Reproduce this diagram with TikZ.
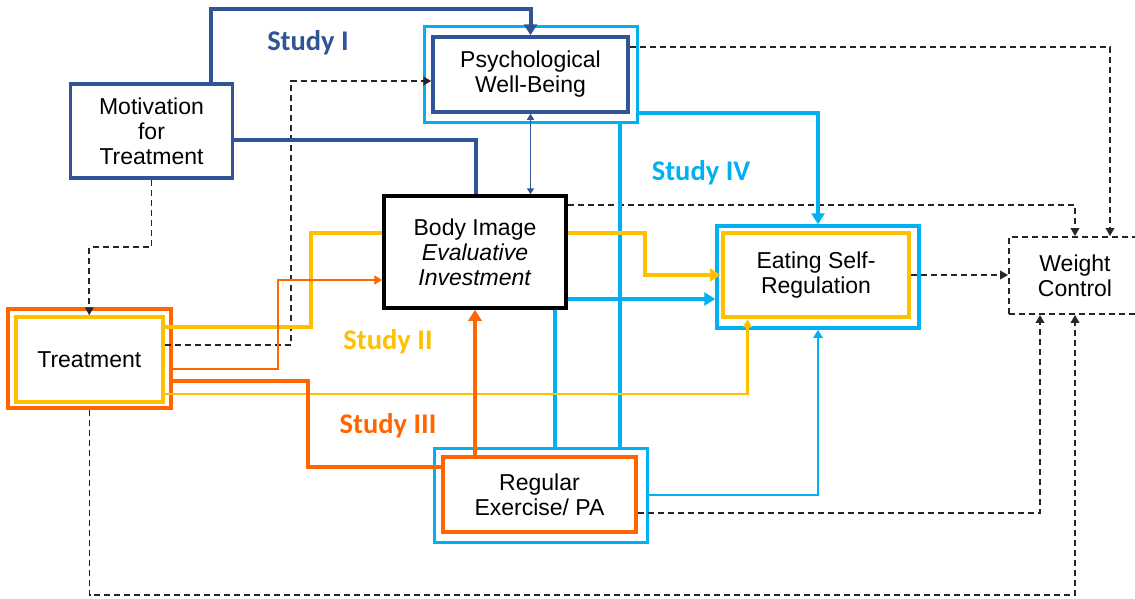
\documentclass[tikz,border=0pt]{standalone}
\usepackage{fontspec}
\setmainfont{Liberation Sans}
\newfontfamily\studyfont{Carlito}
\usetikzlibrary{arrows.meta,calc}
\definecolor{dblue}{RGB}{47,85,151}
\definecolor{lblue}{RGB}{0,176,240}
\definecolor{yel}{RGB}{255,192,0}
\definecolor{ora}{RGB}{255,102,0}
\begin{document}
\begin{tikzpicture}[x=1pt,y=-1pt,
  box/.style={draw, inner sep=0pt, align=center, font=\fontsize{23}{25}\selectfont},
  frame/.style={draw, inner sep=0pt},
  study/.style={inner sep=0pt, font=\studyfont\bfseries\fontsize{28.5}{30}\selectfont},
  dbT/.style={draw=dblue, line width=4pt},
  dbt/.style={draw=dblue, line width=1.6pt},
  lbT/.style={draw=lblue, line width=4pt},
  lbt/.style={draw=lblue, line width=2.2pt},
  ylT/.style={draw=yel, line width=4pt},
  ylt/.style={draw=yel, line width=2.2pt},
  orT/.style={draw=ora, line width=4.5pt},
  ort/.style={draw=ora, line width=2.2pt},
  dsh/.style={draw=black!85, line width=1.8pt, dash pattern=on 6pt off 4pt},
  tipT/.style={-{Triangle[length=11pt,width=13pt]}},
  tipt/.style={-{Triangle[length=8pt,width=9pt]}},
  tipd/.style={-{Triangle[length=8pt,width=8.5pt]}},
]
\useasboundingbox (0,0) rectangle (1135,598);
\clip (0,0) rectangle (1135,598);

% boxes
\node[box, draw=dblue, line width=3.5pt, minimum width=162pt, minimum height=94pt] (mot) at (151.5,131) {Motivation\\for\\Treatment};
\node[frame, draw=lblue, line width=3pt, minimum width=213pt, minimum height=96pt] (psyo) at (530.5,74) {};
\node[box, draw=dblue, line width=3.5pt, minimum width=195pt, minimum height=75pt] (psy) at (530.5,74.5) {Psychological\\Well-Being};
\node[box, draw=black, line width=3.5pt, minimum width=182pt, minimum height=112pt] (body) at (475,252) {Body Image\\\textit{Evaluative}\\\textit{Investment}};
\node[frame, draw=lblue, line width=3.5pt, minimum width=202pt, minimum height=102pt] (eato) at (818,277) {};
\node[box, draw=yel, line width=4.5pt, minimum width=186pt, minimum height=84pt] (eat) at (816,275) {Eating Self-\\Regulation};
\node[box, draw=black!85, line width=1.8pt, dash pattern=on 6pt off 4pt, minimum width=136pt, minimum height=77pt, text width=132pt] (wc) at (1077,275.5) {\hspace*{-4pt}Weight\\\hspace*{-4pt}Control};
\node[frame, draw=ora, line width=3.5pt, minimum width=163pt, minimum height=99pt] (treato) at (89.5,358.5) {};
\node[box, draw=yel, line width=3.5pt, minimum width=147pt, minimum height=85pt] (treat) at (89.3,359.5) {Treatment};
\node[frame, draw=lblue, line width=3pt, minimum width=213pt, minimum height=94pt] (rego) at (540.5,495) {};
\node[box, draw=ora, line width=4pt, minimum width=193pt, minimum height=75pt] (reg) at (539.5,494.5) {Regular\\Exercise/ PA};

% study labels
\node[study, text=dblue] (s1) at (308,43) {Study I};
\node[study, text=yel] (s2) at (388,342) {Study II};
\node[study, text=ora] (s3) at (388,426) {Study III};
\node[study, text=lblue] (s4) at (701,173) {Study IV};

% helper coordinates
\coordinate (c1) at (211,9);
\coordinate (c2) at (476,140);
\coordinate (c3) at (818,113);
\coordinate (c4) at (620,300);
\coordinate (c5) at (555,400);
\coordinate (c6) at (600,299);
\coordinate (c7) at (311,327);
\coordinate (c8) at (311,233);
\coordinate (c9) at (645,233);
\coordinate (c11) at (747.5,394);
\coordinate (c12) at (278,369);
\coordinate (c13) at (278,280);
\coordinate (c14) at (308,381);
\coordinate (c15) at (308,467);
\coordinate (c17) at (89,247);
\coordinate (c18) at (291,345);
\coordinate (c19) at (291,81);
\coordinate (c20) at (1110,47);
\coordinate (c21) at (1075,205);
\coordinate (c22) at (1040,513);
\coordinate (c23) at (0,595);

% dashed connectors
\draw[dsh,tipd] (mot.south) -- (mot.south |- c17) -- (c17 -| treat.north) -- (treat.north);
\draw[dsh,tipd] (c18 -| treat.east) -- (c18) -- (c19) -- (c19 -| psy.west);
\draw[dsh,tipd] (c20 -| psy.east) -- (c20) -- (c20 |- wc.north);
\draw[dsh,tipd] (c21 -| body.east) -- (c21) -- (c21 |- wc.north);
\draw[dsh,tipd] (eat.east) -- (eat.east -| wc.west);
\draw[dsh,tipd] (c22 -| reg.east) -- (c22) -- (c22 |- wc.south);
\draw[dsh,tipd] (treato.south) -- (treato.south |- c23) -- (c23 -| c21) -- (c21 |- wc.south);

% Study I (dark blue)
\draw[dbT,tipT] (mot.north -| c1) -- (c1) -- (c1 -| psy.north) -- (psy.north);
\draw[dbT] (c2 -| mot.east) -- (c2) -- (c2 |- body.north);
\draw[dbt,{Triangle[length=6pt,width=7pt]}-{Triangle[length=6pt,width=7pt]}] (psy.south) -- (psy.south |- body.north);

% Study IV (light blue)
\draw[lbT,tipT] (c3 -| psyo.east) -- (c3) -- (eato.north);
\draw[lbT] (psyo.south -| c4) -- (rego.north -| c4);
\draw[lbT] (body.south -| c5) -- (rego.north -| c5);
\draw[lbT,tipT] (c6 -| body.east) -- (c6 -| eato.west);
\draw[lbt,tipt] (rego.east) -| (eato.south);

% Study II (yellow)
\draw[ylT] (c7 -| treat.east) -- (c7) -- (c8) -- (c8 -| body.west);
\draw[ylT,tipT] (c9 -| body.east) -- (c9) |- (eat.west);
\draw[ylt,tipt] (c11 -| treat.east) -- (c11) -- (c11 |- eat.south);

% Study III (orange)
\draw[ort,tipt] (c12 -| treato.east) -- (c12) -- (c13) -- (c13 -| body.west);
\draw[orT] (c14 -| treato.east) -- (c14) -- (c15) -- (c15 -| reg.west);
\draw[orT,tipT] (reg.north -| body.south) -- (body.south);
\end{tikzpicture}
\end{document}
